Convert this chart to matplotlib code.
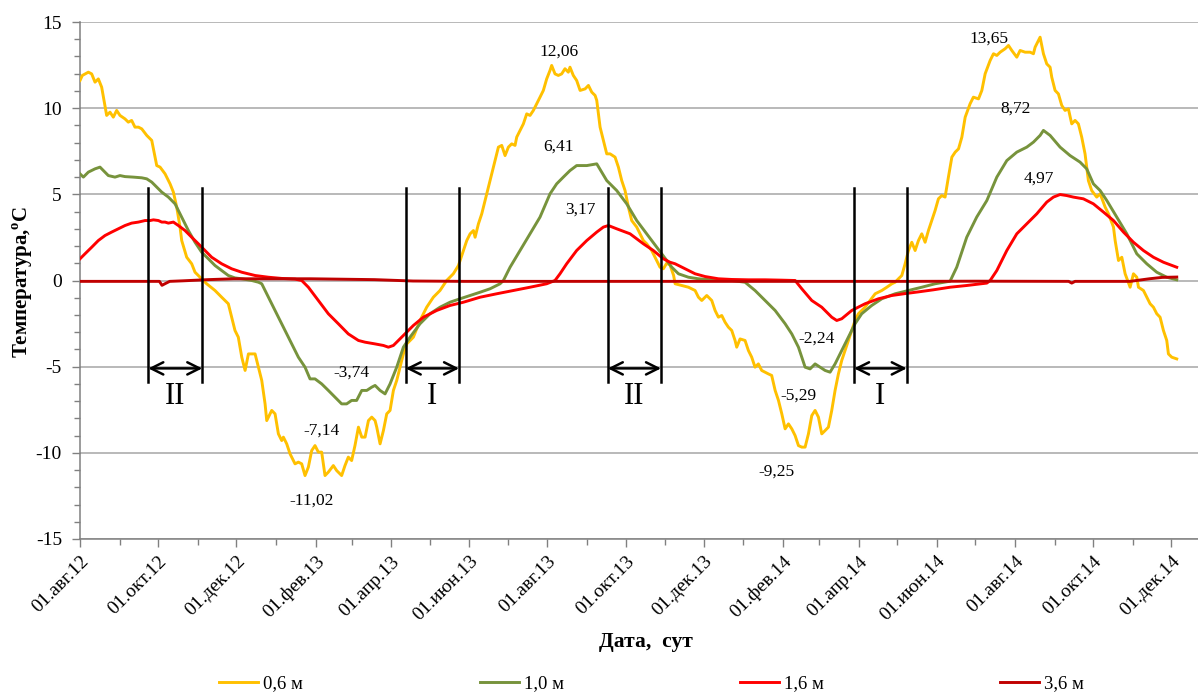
import matplotlib
matplotlib.use("Agg")
import matplotlib.pyplot as plt
import matplotlib.dates as mdates
import pandas as pd
import numpy as np

plt.rcParams['axes.unicode_minus'] = False
plt.rcParams['font.family'] = ['Liberation Serif', 'DejaVu Serif']

START = "2012-08-01"

# ---- data: days since 01.08.2012, temperature, °C ----
days_06 = [0, 1.8, 6.5, 9.1, 11.7, 14.3, 16.9, 20.8, 23.4, 26.0, 28.6, 31.2, 35.1, 37.7, 40.3, 42.9, 45.6, 48.2,
           52.1, 56.0, 58.6, 59.9, 62.5, 66.4, 70.3, 72.9, 75.5, 78.1, 79.4, 83.3, 87.2, 89.8, 93.7, 96.3, 98.9,
           105.4, 110.6, 115.8, 118.4, 121.0, 123.6, 126.3, 128.9, 131.5, 136.7, 139.3, 141.9, 144.5, 145.8, 149.7,
           152.3, 154.9, 157.5, 158.8, 161.4, 164.0, 167.9, 170.5, 173.1, 175.7, 178.3, 180.9, 183.5, 186.1, 188.7,
           191.3, 193.9, 197.8, 200.4, 204.3, 206.9, 209.5, 212.1, 214.7, 217.4, 220.0, 222.6, 225.2, 227.8, 230.4,
           231.7, 234.3, 236.9, 239.5, 242.1, 244.7, 247.3, 249.9, 252.5, 255.1, 260.3, 265.5, 270.7, 275.9, 281.1,
           286.3, 291.5, 295.5, 296.8, 299.4, 302.0, 304.6, 307.2, 308.5, 311.1, 313.7, 316.3, 318.9, 322.8, 326.7,
           329.3, 331.9, 334.5, 337.1, 339.7, 341.0, 343.6, 346.2, 348.8, 351.4, 354.0, 356.6, 359.2, 361.8, 364.4,
           367.0, 368.3, 370.9, 373.5, 376.1, 378.7, 381.3, 382.6, 385.2, 387.8, 390.5, 394.4, 397.0, 399.6, 402.2,
           403.5, 406.1, 408.7, 411.3, 413.9, 417.8, 420.4, 423.0, 425.6, 428.2, 430.8, 434.7, 437.3, 439.9, 442.5,
           446.4, 450.3, 452.9, 455.5, 458.1, 460.7, 463.5,
           464.7, 469.9, 475.1, 480.3, 482.9, 485.5, 489.4, 493.3, 495.9, 498.5, 501.1, 503.7, 506.3, 508.9, 511.5,
           512.8, 515.4, 519.3, 521.9, 524.5, 527.1, 529.7, 532.3, 534.9, 537.5, 540.1, 542.8, 545.4, 548.0, 550.6,
           553.2, 555.8, 558.4, 561.0, 563.6, 566.2, 568.8, 571.4, 574.0, 576.6, 579.2, 581.8, 584.4, 587.0, 589.6,
           592.2, 594.8, 597.4, 600.0, 602.6, 605.2, 607.8, 610.4, 613.0, 616.9, 620.9, 626.1, 630.0, 633.9, 636.5,
           639.1, 641.7, 644.3, 646.9, 649.5, 652.1, 654.7, 657.3, 659.9, 662.5, 665.1, 667.7, 670.3, 672.9, 675.5,
           678.1, 680.8, 683.4, 686.0, 688.6, 691.2,
           695.0, 697.6, 701.6, 704.2, 706.8, 710.7, 713.3, 715.9, 718.5, 722.4, 725.0, 727.6, 731.5, 734.1, 738.0,
           741.9, 744.5, 745.8, 748.4, 749.7, 751.0, 752.3, 754.9, 757.5, 758.8, 761.4, 764.0, 766.6, 769.2, 771.8,
           774.4, 777.0, 779.6, 782.2, 784.8, 786.1, 787.4, 790.0, 793.9, 796.6, 800.5, 803.1, 807.0, 808.3, 810.9,
           813.5, 816.1, 820.0, 822.6, 825.2, 826.5, 830.4, 833.0, 835.6, 838.2, 840.8, 843.4, 846.0, 848.6, 849.9,
           852.5, 856.4]
temp_06 = [11.61, 11.9, 12.09, 11.99, 11.51, 11.7, 11.22, 9.58, 9.77, 9.48, 9.87, 9.58, 9.38, 9.19, 9.29, 8.90, 8.90, 8.80,
           8.42, 8.13, 7.16, 6.67, 6.58, 6.19, 5.61, 5.13, 4.26, 3.10, 2.32, 1.35, 0.97, 0.48, 0.19, 0.0, -0.19,
           -0.58, -0.97, -1.35, -2.13, -2.90, -3.29, -4.45, -5.22, -4.26, -4.26, -5.03, -5.80, -7.16, -8.13, -7.54,
           -7.74, -8.90, -9.29, -9.09, -9.48, -10.06, -10.64, -10.54, -10.64, -11.32, -10.83, -9.87, -9.58, -9.96, -9.96,
           -11.32, -11.12, -10.74, -11.03, -11.32, -10.74, -10.25, -10.45, -9.58, -8.51, -9.09, -9.09, -8.13, -7.93, -8.13,
           -8.51, -9.48, -8.71, -7.74, -7.54, -6.38, -5.80, -5.03, -4.26, -3.68, -3.29, -2.32, -1.55, -0.97, -0.58,
           0.0, 0.39, 0.87, 1.16, 1.74, 2.32, 2.71, 2.90, 2.51, 3.29, 3.87, 4.64, 5.42, 6.58, 7.74,
           7.84, 7.25, 7.74, 7.93, 7.84, 8.32, 8.71, 9.09, 9.67, 9.58, 9.87, 10.25, 10.64, 11.03, 11.70,
           12.19, 12.48, 11.99, 11.90, 11.99, 12.29, 12.09, 12.38, 11.90, 11.61, 11.03, 11.12, 11.32, 10.93, 10.74,
           10.45, 8.90, 8.13, 7.35, 7.35, 7.16, 6.58, 5.80, 5.22, 4.26, 3.48, 3.10, 2.71, 2.32, 2.13,
           1.74, 1.16, 0.77, 0.68, 1.00, 0.90, 0.30,
           -0.19, -0.29, -0.39, -0.58, -0.97, -1.16, -0.87, -1.16, -1.74, -2.13, -2.03, -2.42, -2.71, -2.90, -3.48,
           -3.87, -3.39, -3.48, -4.06, -4.45, -5.03, -4.84, -5.22, -5.32, -5.42, -5.51, -6.38, -6.96, -7.74, -8.61,
           -8.32, -8.61, -9.00, -9.58, -9.67, -9.67, -8.90, -7.84, -7.54, -7.93, -8.90, -8.71, -8.51, -7.54, -6.38,
           -5.42, -4.64, -4.06, -3.48, -2.90, -2.32, -1.93, -1.74, -1.55, -1.16, -0.77, -0.58, -0.39, -0.19, -0.10,
           0.10, 0.29, 0.97, 1.74, 2.22, 1.74, 2.32, 2.71, 2.22, 2.90, 3.48, 4.06, 4.74, 4.93, 4.84,
           6.00, 7.16, 7.45, 7.64, 8.32, 9.48,
           10.25, 10.64, 10.54, 11.03, 12.00, 12.77, 13.16, 13.06, 13.25, 13.45, 13.64, 13.35, 12.96, 13.35, 13.25,
           13.25, 13.16, 13.54, 13.93, 14.12, 13.64, 13.16, 12.57, 12.38, 11.80, 11.03, 10.83, 10.16, 9.87, 9.96,
           9.09, 9.29, 9.09, 8.32, 7.35, 6.58, 5.80, 5.22, 4.84, 5.03, 4.26, 3.87, 3.10, 2.32, 1.16,
           1.35, 0.39, -0.39, 0.39, 0.19, -0.39, -0.58, -0.97, -1.35, -1.55, -1.93, -2.13, -2.90, -3.48, -4.26,
           -4.45, -4.55]

days_10 = [0, 2.6, 6.5, 11.7, 15.6, 19.5, 22.1, 27.3, 31.2, 35.1, 41.6, 48.2, 52.1, 56.0, 59.9, 63.8, 69.0, 74.2,
           79.4, 84.6, 89.8, 95.0, 100.2, 105.4, 110.6, 115.8, 121.0, 126.3, 134.1, 139.3, 141.9, 144.5, 149.7,
           154.9, 160.1, 165.3, 170.5, 175.7, 179.6, 183.5, 188.7, 193.9, 199.1, 204.3, 208.2, 212.1, 216.0, 220.0,
           223.9, 227.8, 230.4, 234.3, 238.2, 242.1, 247.3, 252.5, 257.7, 265.5, 273.3, 281.1, 288.9, 296.8, 304.6,
           312.4, 320.2, 328.0, 330.6, 335.8, 343.6, 351.4, 359.2, 367.0, 372.2, 377.4, 382.6, 387.8, 395.7, 403.5,
           407.4, 411.3, 419.1, 426.9, 434.7, 442.5, 450.3, 458.1, 462.1, 467.3, 475.1, 482.9, 493.3, 508.9, 519.3,
           527.1, 534.9, 542.8, 550.6, 555.8, 561.0, 566.2, 570.1, 574.0, 577.9, 581.8, 585.7, 589.6, 594.8, 600.0,
           605.2, 610.4, 618.2, 626.1, 636.5, 646.9, 657.3, 667.7, 679.4, 684.6, 692.4, 700.2, 708.1, 715.9, 723.7,
           731.5, 739.3, 744.5, 749.7, 752.3, 757.5, 765.3, 773.1, 780.9, 786.1, 791.3, 796.6, 801.8, 809.6, 817.4,
           825.2, 833.0, 840.8, 848.6, 856.4]
temp_10 = [6.19, 6.0, 6.29, 6.48, 6.58, 6.29, 6.09, 6.0, 6.09, 6.03, 6.0, 5.96, 5.90, 5.71, 5.42, 5.13, 4.84, 4.45,
           3.68, 2.90, 2.22, 1.64, 1.26, 0.87, 0.58, 0.29, 0.15, 0.10, 0.0, -0.10, -0.19, -0.58, -1.35,
           -2.13, -2.90, -3.68, -4.45, -5.03, -5.71, -5.71, -6.0, -6.38, -6.77, -7.16, -7.16, -6.96, -6.96, -6.38,
           -6.38, -6.19, -6.09, -6.38, -6.58, -6.00, -5.03, -3.87, -3.29, -2.51, -1.93, -1.55, -1.26, -1.06, -0.87,
           -0.68, -0.48, -0.19, 0.0, 0.77, 1.74, 2.71, 3.68, 5.03, 5.61, 6.00, 6.38, 6.67, 6.67, 6.77,
           6.29, 5.80, 5.22, 4.45, 3.48, 2.71, 1.93, 1.16, 0.77, 0.39, 0.19, 0.10, 0.04, 0.0, -0.10,
           -0.58, -1.16, -1.74, -2.51, -3.10, -3.87, -5.03, -5.13, -4.84, -5.03, -5.22, -5.32, -4.84, -4.06, -3.29,
           -2.51, -1.93, -1.45, -1.06, -0.77, -0.58, -0.39, -0.19, -0.04, 0.77, 2.51, 3.68, 4.64, 6.00, 6.96,
           7.45, 7.74, 8.03, 8.42, 8.71, 8.42, 7.74, 7.25, 6.87, 6.48, 5.61, 5.22, 4.64, 3.68, 2.71,
           1.55, 0.97, 0.48, 0.19, 0.04]

days_16 = [0, 3.9, 9.1, 14.3, 19.5, 24.7, 29.9, 35.1, 40.3, 45.6, 50.8, 54.7, 57.3, 61.2, 63.8, 66.4, 69.0, 72.9,
           76.8, 82.0, 87.2, 92.4, 97.6, 102.8, 110.6, 118.4, 126.3, 136.7, 147.1, 157.5, 167.9, 173.1, 178.3,
           186.1, 193.9, 201.7, 209.5, 217.4, 222.6, 230.4, 236.9, 240.8, 244.7, 248.6, 252.5, 260.3, 268.1, 278.5,
           288.9, 299.4, 312.4, 325.4, 338.4, 351.4, 364.4, 370.9, 374.8, 380.0, 387.8, 395.7, 403.5, 408.7, 412.6,
           419.1, 429.5, 439.9, 447.7, 455.5, 460.7, 464.7, 472.5, 480.3, 488.1, 498.5, 508.9, 521.9, 534.9, 547.9,
           558.4, 563.6, 571.4, 579.2, 587.0, 590.9, 594.8, 602.6, 613.0, 623.5, 633.9, 644.3, 654.7, 666.4, 679.4,
           692.4, 708.1, 710.7, 715.9, 723.7, 731.5, 739.3, 747.1, 754.9, 760.1, 765.3, 770.5, 775.7, 783.5, 791.3,
           799.2, 807.0, 814.8, 822.6, 830.4, 838.2, 846.0, 856.4]
temp_16 = [1.26, 1.55, 1.93, 2.32, 2.61, 2.81, 3.0, 3.19, 3.33, 3.39, 3.48, 3.48, 3.52, 3.48, 3.39, 3.39, 3.33, 3.39,
           3.19, 2.90, 2.51, 2.13, 1.74, 1.35, 0.97, 0.68, 0.48, 0.29, 0.19, 0.12, 0.08, 0.0, -0.39,
           -1.16, -1.93, -2.51, -3.10, -3.48, -3.58, -3.68, -3.77, -3.87, -3.77, -3.48, -3.19, -2.61, -2.13, -1.74,
           -1.45, -1.26, -0.97, -0.77, -0.58, -0.39, -0.19, 0.0, 0.39, 0.97, 1.74, 2.32, 2.81, 3.10, 3.19,
           3.00, 2.71, 2.13, 1.74, 1.26, 1.06, 0.97, 0.68, 0.39, 0.23, 0.10, 0.06, 0.04, 0.04, 0.02,
           0.0, -0.48, -1.16, -1.55, -2.13, -2.32, -2.22, -1.74, -1.35, -1.06, -0.87, -0.76, -0.66, -0.54, -0.39,
           -0.29, -0.15, 0.0, 0.58, 1.74, 2.71, 3.29, 3.87, 4.55, 4.84, 4.99, 4.93, 4.84, 4.74, 4.45,
           3.97, 3.48, 2.81, 2.22, 1.74, 1.35, 1.06, 0.77]

days_36 = [0, 50, 62, 64, 66, 70, 80, 100, 120, 180, 230, 260, 300, 400, 550, 650, 700, 772, 774.4, 777, 820, 835, 845, 856.4]
temp_36 = [-0.05, -0.05, -0.05, -0.28, -0.2, -0.05, -0.02, 0.05, 0.1, 0.1, 0.05, -0.03, -0.05, -0.05, -0.05, -0.05,
           -0.04, -0.05, -0.15, -0.05, -0.05, 0.1, 0.18, 0.2]

series_names = ["0,6 м", "1,0 м", "1,6 м", "3,6 м"]
series_colors = ["#FFC000", "#77933C", "#FF0000", "#C00000"]

# boundaries of periods (days since start), labels
period_bounds = [(53.3, 95.5), (254.3, 296.0), (412.1, 453.7), (604.4, 645.6)]
period_labels = ["II", "I", "II", "I"]

# value annotations: (day, y-position, text)
ann_days = [374.1, 373.5, 390.5, 212.2, 188.7, 180.9, 575.3, 561.0, 544.1, 709.4, 730.2, 748.4]
ann_pos = [13.31, 7.78, 4.10, -5.32, -8.71, -12.77, -3.39, -6.67, -11.12, 14.03, 9.96, 5.90]
ann_text = ["12,06", "6,41", "3,17", "-3,74", "-7,14", "-11,02", "-2,24", "-5,29", "-9,25", "13,65", "8,72", "4,97"]

tick_dates = ["2012-08-01", "2012-10-01", "2012-12-01", "2013-02-01", "2013-04-01", "2013-06-01", "2013-08-01",
              "2013-10-01", "2013-12-01", "2014-02-01", "2014-04-01", "2014-06-01", "2014-08-01", "2014-10-01",
              "2014-12-01"]
tick_labels = ["01.авг.12", "01.окт.12", "01.дек.12", "01.фев.13", "01.апр.13", "01.июн.13", "01.авг.13",
               "01.окт.13", "01.дек.13", "01.фев.14", "01.апр.14", "01.июн.14", "01.авг.14", "01.окт.14",
               "01.дек.14"]

# ---- plotting ----
t0 = pd.Timestamp(START)
def to_dt(d):
    return t0 + pd.to_timedelta(np.asarray(d, dtype=float), unit="D")

fig = plt.figure(figsize=(11.98, 6.95), dpi=100)
ax = fig.add_axes([0.0668, 0.2245, 0.9332, 0.7438])

grid_c = "#A6A6A6"
for days, temps, name, col in zip([days_06, days_10, days_16, days_36], [temp_06, temp_10, temp_16, temp_36],
                                   series_names, series_colors):
    ax.plot(to_dt(days), temps, color=col, lw=2.1, label=name, zorder=3, solid_joinstyle="round")

ax.set_ylim(-15, 15)
ax.set_yticks(range(-15, 16, 5))
ax.set_yticks(range(-15, 16, 1), minor=True)
ax.yaxis.grid(True, which="major", color=grid_c, lw=1.1)
ax.set_axisbelow(True)
ax.set_xlim(to_dt([0])[0], to_dt([873])[0])
ax.set_xticks(pd.to_datetime(tick_dates))
ax.set_xticklabels(tick_labels, rotation=45, ha="right", rotation_mode="anchor", fontsize=14)
ax.xaxis.set_minor_locator(mdates.MonthLocator())
ax.tick_params(axis="y", labelsize=14, colors="black", pad=7)
ax.tick_params(axis="both", which="both", direction="out", color="#808080")
ax.tick_params(axis="both", which="major", length=6, width=1)
ax.tick_params(axis="both", which="minor", length=4, width=1)
ax.tick_params(axis="x", which="major", pad=4)

for s in ["top", "right"]:
    ax.spines[s].set_visible(False)
for s in ["left", "bottom"]:
    ax.spines[s].set_color("#808080")
    ax.spines[s].set_linewidth(1.1)

# period markers
for (a, b), lab in zip(period_bounds, period_labels):
    for d in (a, b):
        ax.plot(to_dt([d, d]), [5.35, -5.9], color="black", lw=1.8, zorder=4)
    ax.annotate("", xy=(to_dt([b])[0], -5.1), xytext=(to_dt([a])[0], -5.1),
                arrowprops=dict(arrowstyle="<->", lw=1.8, color="black", mutation_scale=22,
                                shrinkA=0, shrinkB=0), zorder=4)
    ax.text(to_dt([(a + b) / 2])[0], -6.75, lab, ha="center", va="center", fontsize=22, zorder=5)

for d, y, s in zip(ann_days, ann_pos, ann_text):
    ax.text(to_dt([d])[0], y, s, ha="center", va="center", fontsize=12.5, zorder=5)

fig.text(0.019, 0.594, "Температура,${}^{\\mathregular{o}}$С", rotation=90, ha="center", va="center",
         fontsize=15, fontweight="bold")
fig.text(0.539, 0.076, "Дата,  сут", ha="center", va="center", fontsize=15.5, fontweight="bold")

fig.legend(loc="center", bbox_to_anchor=(0.544, 0.016), ncol=4, frameon=False, fontsize=13.5,
           handlelength=2.08, handletextpad=0.27, columnspacing=9.4, borderpad=0, borderaxespad=0)

fig.savefig("out.png", dpi=100)
